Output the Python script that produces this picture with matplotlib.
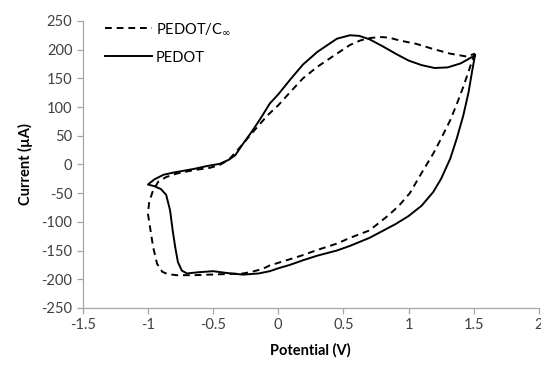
import matplotlib
matplotlib.use("Agg")
import matplotlib.pyplot as plt

# PEDOT/C60 loop, starting at the anodic vertex and going down (cathodic) then back
c60_v = [1.51, 1.48, 1.45, 1.42, 1.37, 1.32, 1.25, 1.19, 1.10, 1.01, 0.93, 0.85,
         0.70, 0.55, 0.45, 0.30, 0.19, 0.05, -0.065, -0.12, -0.20, -0.27, -0.40,
         -0.525, -0.65, -0.78, -0.85, -0.89, -0.93, -0.96, -0.98, -1.00, -0.99,
         -0.96, -0.92, -0.86, -0.78, -0.65, -0.525, -0.45, -0.38, -0.30, -0.20,
         -0.08, 0.00, 0.10, 0.19, 0.30, 0.45, 0.55, 0.63, 0.70, 0.78, 0.85, 0.93,
         1.06, 1.19, 1.32, 1.445, 1.51]
c60_i = [193, 175, 155, 135, 105, 77, 45, 19, -15, -50, -71, -88,
         -115, -128, -138, -149, -158, -168, -176, -182, -187, -190, -191,
         -192, -193, -193, -191, -187, -173, -144, -115, -86, -65,
         -45, -30, -22, -16, -10, -6, -1, 8, 28, 55,
         86, 103, 128, 150, 170, 193, 208, 216, 220, 222, 221, 216,
         210, 201, 193, 188, 193]

# PEDOT loop
pedot_v = [1.51, 1.49, 1.46, 1.42, 1.37, 1.32, 1.25, 1.19, 1.10, 1.00, 0.90,
           0.80, 0.70, 0.55, 0.45, 0.30, 0.19, 0.09, 0.00, -0.065, -0.15,
           -0.27, -0.40, -0.50, -0.62, -0.70, -0.74, -0.77, -0.79, -0.81,
           -0.83, -0.86, -0.90, -0.95, -1.00, -0.95, -0.88, -0.80, -0.65,
           -0.55, -0.45, -0.38, -0.33, -0.27, -0.20, -0.13, -0.065, 0.00, 0.10,
           0.19, 0.30, 0.45, 0.55, 0.62, 0.70, 0.80, 0.90, 1.00, 1.10, 1.20,
           1.30, 1.40, 1.51]
pedot_i = [190, 165, 125, 85, 45, 10, -25, -48, -72, -90, -104,
           -116, -128, -142, -150, -159, -167, -175, -181, -186, -190,
           -192, -189, -186, -188, -190, -185, -170, -145, -115,
           -80, -53, -43, -38, -35, -26, -18, -14, -8,
           -3, 1, 8, 16, 36, 58, 82, 106, 122, 150,
           174, 196, 219, 225, 224, 218, 206, 193, 181, 173, 168,
           169, 176, 190]

x_ticks = [-1.5, -1, -0.5, 0, 0.5, 1, 1.5, 2]
y_ticks = [-250, -200, -150, -100, -50, 0, 50, 100, 150, 200, 250]

plt.rcParams["font.family"] = ["Lato", "DejaVu Sans"]
plt.rcParams["axes.unicode_minus"] = False

fig = plt.figure(figsize=(5.41, 3.67), dpi=100)
ax = fig.add_axes([0.153, 0.161, 0.843, 0.782])

ax.plot(c60_v, c60_i, color="black", lw=1.4, ls=(0, (3.5, 2.5)), label="PEDOT/C$_{\\infty}$")
ax.plot(pedot_v, pedot_i, color="black", lw=1.4, label="PEDOT")

ax.set_xlim(-1.5, 2)
ax.set_ylim(-250, 250)
ax.set_xticks(x_ticks)
ax.set_xticklabels([f"{t:g}" for t in x_ticks])
ax.set_yticks(y_ticks)

for side in ["top", "right"]:
    ax.spines[side].set_visible(False)
for side in ["left", "bottom"]:
    ax.spines[side].set_color("#a6a6a6")
    ax.spines[side].set_linewidth(0.9)
ax.tick_params(colors="#a6a6a6", length=4, width=0.9, labelsize=10.5, labelcolor="#404040")

ax.set_xlabel("Potential (V)", fontsize=10.5, fontweight="bold", labelpad=8)
ax.set_ylabel("Current (\u00b5A)", fontsize=10.5, fontweight="bold", labelpad=6)

ax.legend(loc="upper left", frameon=False, fontsize=10.5, handlelength=3.2,
          bbox_to_anchor=(0.02, 1.045), labelspacing=0.95, handletextpad=0.3)

fig.savefig("out.png", dpi=100)
